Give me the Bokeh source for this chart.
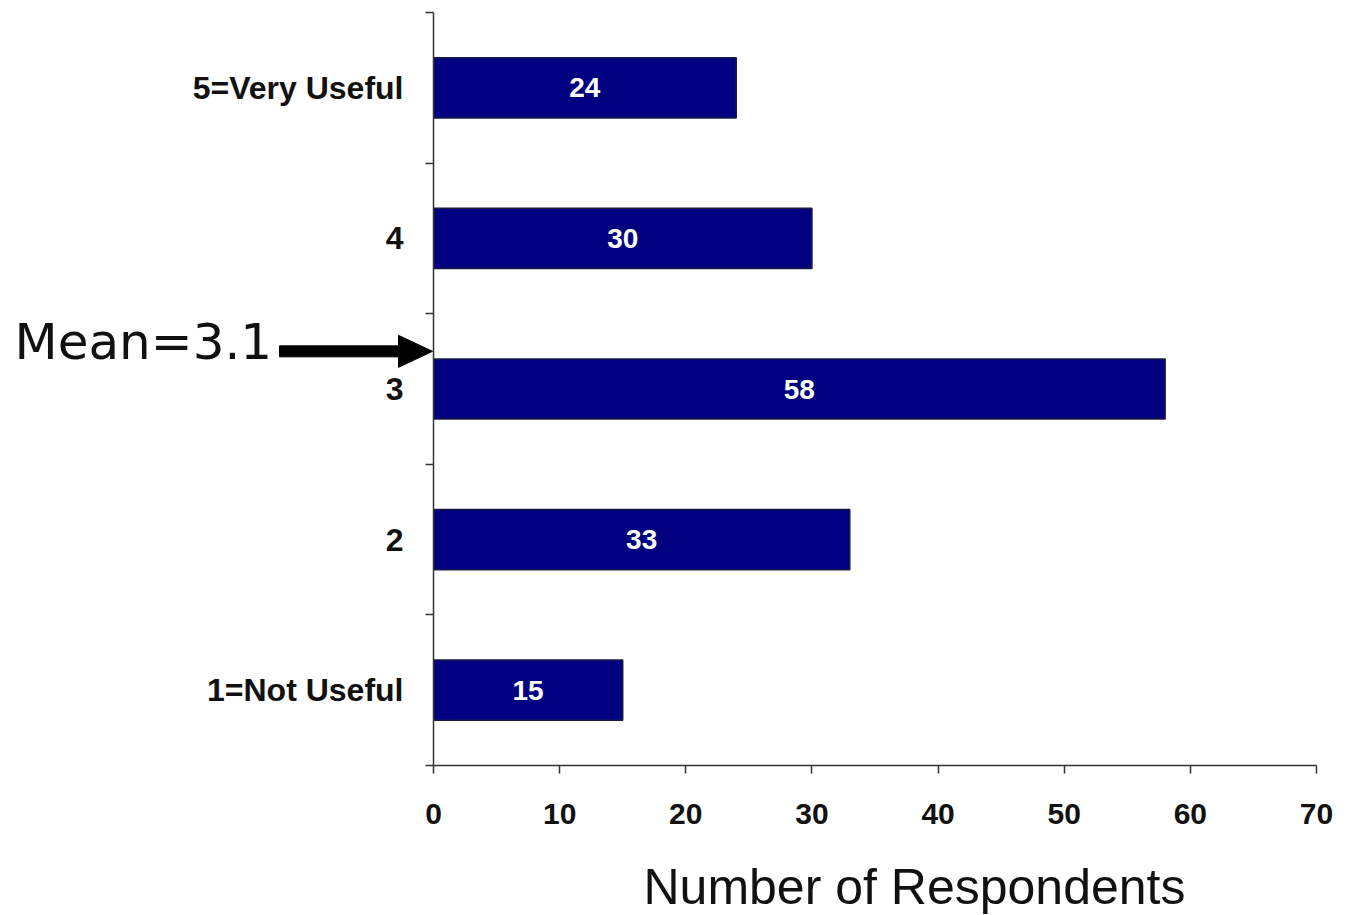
from bokeh.plotting import figure
from bokeh.models import FixedTicker, ColumnDataSource, LabelSet
from bokeh.core.properties import value
from bokeh.embed import file_html
from bokeh.resources import INLINE

# ---- data ----
ratings = [1, 2, 3, 4, 5]
rating_labels = ["1=Not Useful", "2", "3", "4", "5=Very Useful"]
counts = [15, 33, 58, 30, 24]
x_ticks = [0, 10, 20, 30, 40, 50, 60, 70]
mean_text = "Mean=3.1"
x_title = "Number of Respondents"
mean_arrow_y = 3.25   # where the "Mean" arrow points on the rating axis (as drawn)

BAR = "#000080"
FONT = "Liberation Sans"

X0, X1 = 0, 70
Y0, Y1 = 0.5, 5.5
p = figure(width=1353, height=915, output_backend="svg", toolbar_location=None,
           x_range=(X0, X1), y_range=(Y0, Y1),
           min_border_left=433, min_border_right=37, min_border_top=12, min_border_bottom=150)
p.outline_line_color = None
p.xgrid.grid_line_color = None
p.ygrid.grid_line_color = None
p.background_fill_color = "white"
p.border_fill_color = "white"

# size of one pixel in data units (frame 883 x 753 px)
ux = (X1 - X0) / 883.0
uy = (Y1 - Y0) / 753.0

src = ColumnDataSource(dict(y=ratings, right=counts,
                            mid=[c / 2 for c in counts],
                            txt=[str(c) for c in counts]))
p.hbar(y="y", right="right", left=0, height=0.4, source=src,
       fill_color=BAR, line_color="#1a1a40", line_width=1.5)
p.add_layout(LabelSet(x="mid", y="y", text="txt", source=src,
                      text_color="white", text_font=value(FONT), text_font_style="bold",
                      text_font_size="28px", text_align="center", text_baseline="middle"))

# y axis: labels at category centres, ticks at band boundaries
ya = p.yaxis[0]
ya.ticker = FixedTicker(ticks=ratings, minor_ticks=[0.5, 1.5, 2.5, 3.5, 4.5, 5.5])
ya.major_label_overrides = {r: l for r, l in zip(ratings, rating_labels)}
ya.major_tick_out = 0
ya.major_tick_in = 0
ya.minor_tick_out = 8
ya.minor_tick_in = 0
ya.minor_tick_line_color = "#333333"
ya.minor_tick_line_width = 1.5
ya.axis_line_color = "#333333"
ya.axis_line_width = 1.5
ya.major_label_standoff = 22
ya.major_label_text_font = FONT
ya.major_label_text_font_style = "bold"
ya.major_label_text_font_size = "32px"
ya.major_label_text_color = "#111111"

xa = p.xaxis[0]
xa.ticker = FixedTicker(ticks=x_ticks, minor_ticks=[])
xa.major_tick_out = 8
xa.major_tick_in = 0
xa.major_tick_line_color = "#333333"
xa.major_tick_line_width = 1.5
xa.axis_line_color = "#333333"
xa.axis_line_width = 1.5
xa.major_label_standoff = 30
xa.major_label_text_font = FONT
xa.major_label_text_font_style = "bold"
xa.major_label_text_font_size = "30px"
xa.major_label_text_color = "#111111"

# x title (placed right of centre as in the original), drawn at overlay level (unclipped)
p.text(x=[X0 + 210 * ux], y=[Y0 - 121 * uy], text=[x_title],
       text_font=value(FONT), text_font_size="50px", text_color="#111111",
       text_baseline="alphabetic", text_align="left", level="overlay")

# mean annotation: text + arrow pointing at the rating axis
p.text(x=[X0 - 419 * ux], y=[mean_arrow_y + 9 * uy], text=[mean_text],
       text_font=value("DejaVu Sans"), text_font_size="50px", text_color="#111111",
       text_baseline="alphabetic", text_align="left", level="overlay")
tip = X0 - 1 * ux
base = tip - 34 * ux
tail = tip - 153 * ux
hw, sw = 16 * uy, 5.5 * uy
p.patch(x=[tail, base, base, tip, base, base, tail],
        y=[mean_arrow_y + sw, mean_arrow_y + sw, mean_arrow_y + hw, mean_arrow_y,
           mean_arrow_y - hw, mean_arrow_y - sw, mean_arrow_y - sw],
        fill_color="black", line_color="black", line_width=1, level="overlay")

open("out.html", "w").write(file_html(p, INLINE))
